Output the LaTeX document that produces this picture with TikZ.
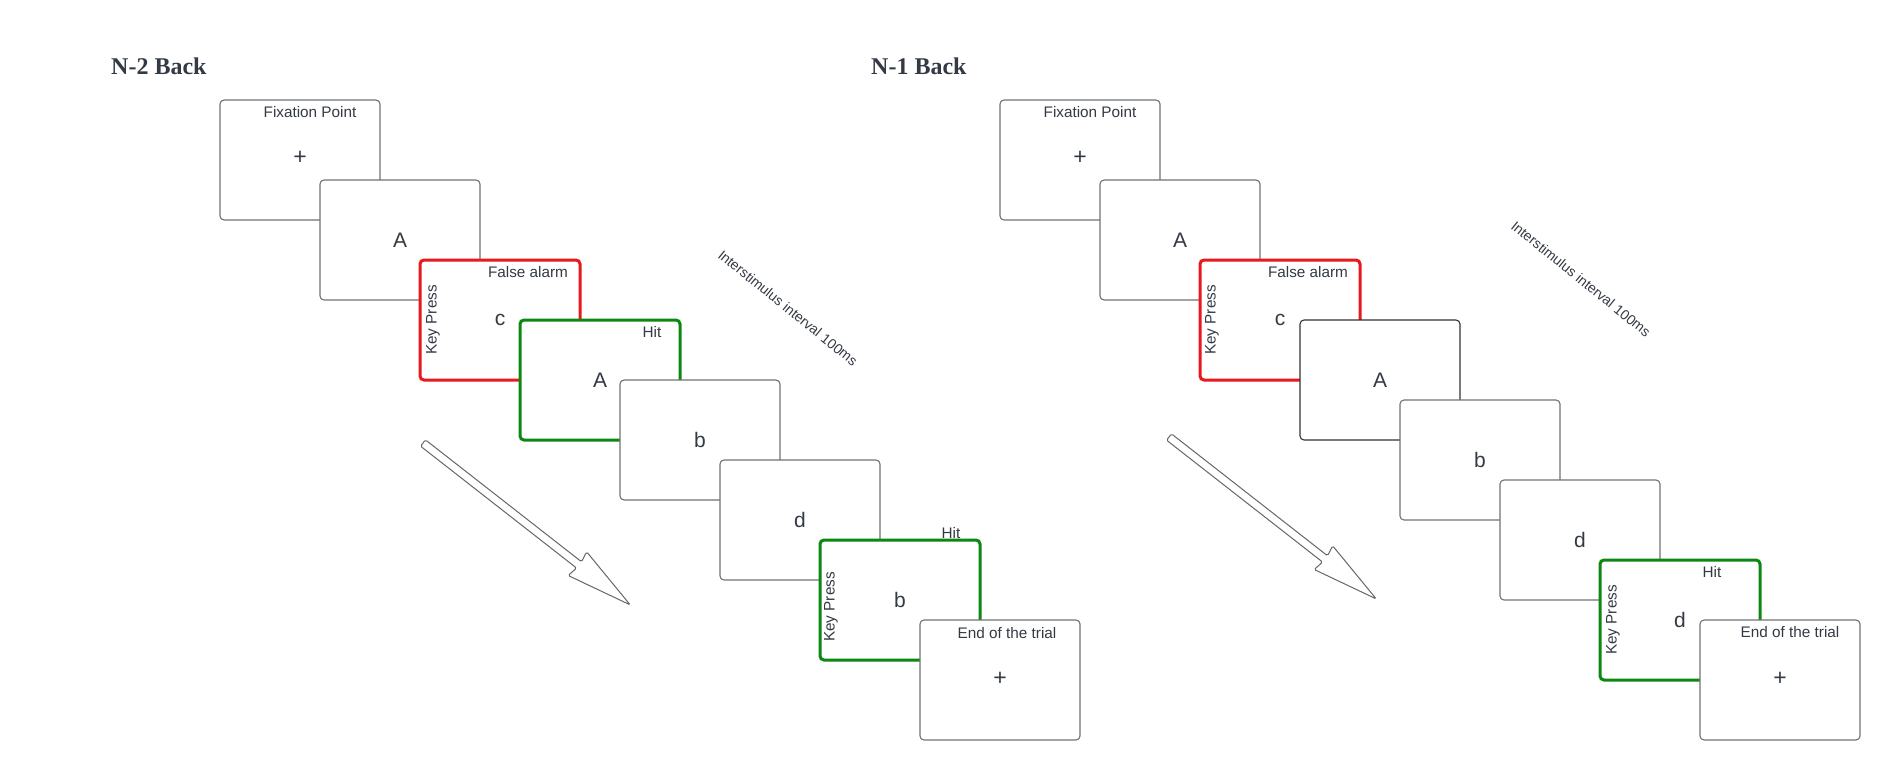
\documentclass[tikz,border=0pt]{standalone}
\usepackage{fontspec}
\setmainfont{Liberation Sans}
\newfontfamily\titlefont{Liberation Serif}
\definecolor{txt}{RGB}{52,58,68}
\definecolor{frame}{RGB}{112,114,120}
\definecolor{redf}{RGB}{232,24,28}
\definecolor{greenf}{RGB}{14,134,18}
\tikzset{
  card/.style={draw=frame, line width=1.1pt, fill=white, rounded corners=4pt,
    minimum width=160pt, minimum height=120pt, inner sep=0pt},
  redcard/.style={card, draw=redf, line width=3pt},
  greencard/.style={card, draw=greenf, line width=3pt},
  blackcard/.style={card, draw=black!80},
  lbl/.style={text=txt, inner sep=0pt, font=\fontsize{15.3}{18}\selectfont},
  stim/.style={text=txt, inner sep=0pt, font=\fontsize{21}{24}\selectfont},
  cross/.style={text=txt, inner sep=0pt, font=\fontsize{23}{26}\selectfont},
  ttl/.style={text=txt, inner sep=0pt, anchor=west, font=\titlefont\bfseries\fontsize{24}{28}\selectfont},
  isi/.style={lbl, font=\fontsize{14}{17}\selectfont, rotate=-39},
  hollow/.style={draw=frame!90!black, line width=1pt, fill=white, rounded corners=1.5pt}
}
\begin{document}
\begin{tikzpicture}[x=1pt, y=-1pt]
\useasboundingbox[fill=white] (0,0) rectangle (1900,780);

% ---------------- N-2 Back ----------------
\node[ttl] (t1) at (111,66) {N-2 Back};

\node[card] (a1) at (300,160) {};
\node[lbl] (a1l) at (310,112) {Fixation Point};
\node[cross] (a1s) at (300,158) {+};

\node[card] (a2) at (400,240) {};
\node[stim] (a2s) at (400,240) {A};

\node[redcard] (a3) at (500,320) {};
\node[lbl] (a3l) at (528,272) {False alarm};
\node[stim] (a3s) at (500,320) {c};
\node[lbl, rotate=90] (a3k) at (433,320) {Key Press};

\node[greencard] (a4) at (600,380) {};
\node[lbl] (a4l) at (652,332) {Hit};
\node[stim] (a4s) at (600,380) {A};

\node[card] (a5) at (700,440) {};
\node[stim] (a5s) at (700,440) {b};

\node[card] (a6) at (800,520) {};
\node[stim] (a6s) at (800,520) {d};

\node[greencard] (a7) at (900,600) {};
\node[lbl] (a7l) at (951,533) {Hit};
\node[stim] (a7s) at (900,600) {b};
\node[lbl, rotate=90] (a7k) at (831,607) {Key Press};

\node[card] (a8) at (1000,680) {};
\node[lbl] (a8l) at (1007,633) {End of the trial};
\node[cross] (a8s) at (1000,679) {+};

\node[isi] (i1) at (788,308) {Interstimulus interval 100ms};

\draw[hollow, shift={(423,443)}, rotate=-38]
  (0,-4) -- (198,-4) -- (196,-15) -- (263,0) -- (196,15) -- (198,4) -- (0,4) -- cycle;

% ---------------- N-1 Back ----------------
\node[ttl] (t2) at (871,66) {N-1 Back};

\node[card] (b1) at (1080,160) {};
\node[lbl] (b1l) at (1090,112) {Fixation Point};
\node[cross] (b1s) at (1080,158) {+};

\node[card] (b2) at (1180,240) {};
\node[stim] (b2s) at (1180,240) {A};

\node[redcard] (b3) at (1280,320) {};
\node[lbl] (b3l) at (1308,272) {False alarm};
\node[stim] (b3s) at (1280,320) {c};
\node[lbl, rotate=90] (b3k) at (1212,320) {Key Press};

\node[blackcard] (b4) at (1380,380) {};
\node[stim] (b4s) at (1380,380) {A};

\node[card] (b5) at (1480,460) {};
\node[stim] (b5s) at (1480,460) {b};

\node[card] (b6) at (1580,540) {};
\node[stim] (b6s) at (1580,540) {d};

\node[greencard] (b7) at (1680,620) {};
\node[lbl] (b7l) at (1712,572) {Hit};
\node[stim] (b7s) at (1680,620) {d};
\node[lbl, rotate=90] (b7k) at (1613,620) {Key Press};

\node[card] (b8) at (1780,680) {};
\node[lbl] (b8l) at (1790,632) {End of the trial};
\node[cross] (b8s) at (1780,679) {+};

\node[isi] (i2) at (1581,279) {Interstimulus interval 100ms};

\draw[hollow, shift={(1169,437)}, rotate=-38]
  (0,-4) -- (198,-4) -- (196,-15) -- (263,0) -- (196,15) -- (198,4) -- (0,4) -- cycle;
\end{tikzpicture}
\end{document}
